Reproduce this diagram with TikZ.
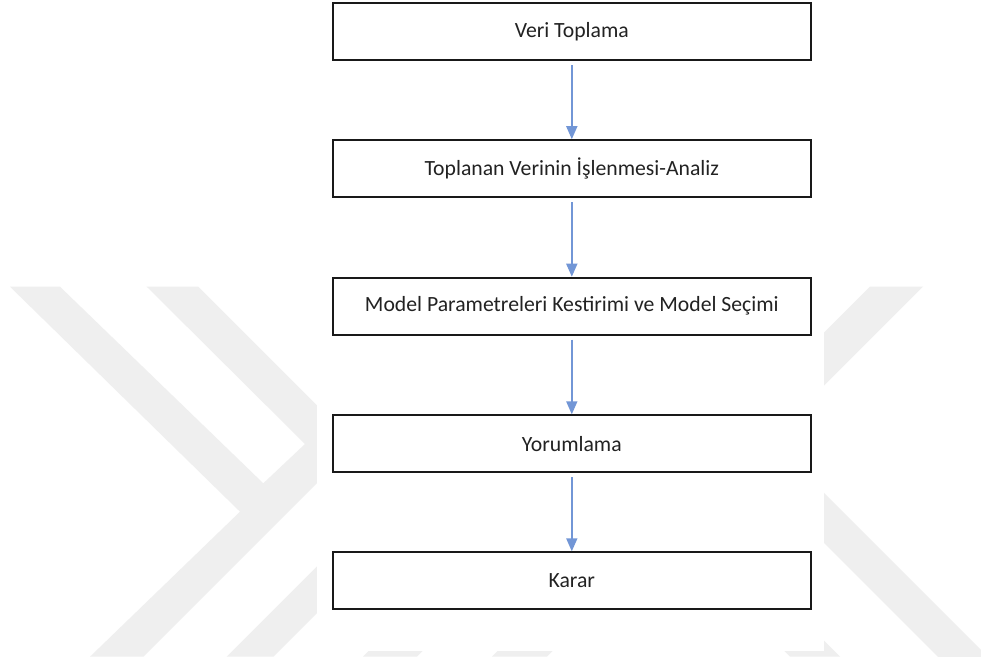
\documentclass[tikz,border=0pt]{standalone}
\usepackage{fontspec}
\setmainfont{Carlito}
\usetikzlibrary{arrows.meta}
\definecolor{wmgrey}{RGB}{239,239,239}
\definecolor{arrowblue}{RGB}{114,150,214}
\definecolor{txtgrey}{RGB}{34,34,34}
\tikzset{
  stepbox/.style={draw=black!90, line width=2pt, fill=white, minimum width=478.5pt, minimum height=57pt, inner sep=0pt, font=\fontsize{21.7}{25}\selectfont, text=txtgrey},
  flowarrow/.style={draw=arrowblue, line width=1.6pt, -{Triangle[length=13pt,width=11pt]}, shorten <=4pt},
  wmband/.style={fill=wmgrey, draw=none}
}
\begin{document}
\begin{tikzpicture}[x=1pt,y=-1pt]
\useasboundingbox (0,0) rectangle (981,662);
\fill[white] (0,0) rectangle (981,662);
% watermark
\begin{scope}
\clip (0,286.7) rectangle (981,656.7);
\fill[wmband] (10,286.7) -- (60,286.7) -- (263.3,483.3) -- (305,444) -- (146.7,286.7) -- (198.3,286.7) -- (330,418.4) -- (330,470) -- (143.3,656.7) -- (90,656.7) -- (240,511.7) -- cycle;
\fill[wmband] (226.7,656.7) -- (273.3,656.7) -- (330,600) -- (330,553.4) -- cycle;
\fill[wmband] (870,286.7) -- (923,286.7) -- (810,399.7) -- (810,346.7) -- cycle;
\fill[wmband] (810,479) -- (1000,669) -- (950,669) -- (810,529) -- cycle;
\fill[wmband] (363,656.7) -- (417,656.7) -- (467,606.7) -- (413,606.7) -- cycle;
\fill[wmband] (492,656.7) -- (547,656.7) -- (597,606.7) -- (542,606.7) -- cycle;
\fill[wmband] (790,656.7) -- (840,656.7) -- (790,606.7) -- (740,606.7) -- cycle;
\end{scope}
\fill[white] (317,0) rectangle (823.5,650.7);
% flowchart
\node[stepbox] (b1) at (571.8,31.7) {Veri Toplama};
\node[stepbox] (b2) at (571.8,168.7) {Toplanan Verinin İşlenmesi-Analiz};
\node[stepbox] (b3) at (571.8,306.2) {Model Parametreleri Kestirimi ve Model Seçimi};
\node[stepbox] (b4) at (571.8,443.8) {Yorumlama};
\node[stepbox] (b5) at (571.8,580.8) {Karar};
\draw[flowarrow] (b1) -- (b2);
\draw[flowarrow] (b2) -- (b3);
\draw[flowarrow] (b3) -- (b4);
\draw[flowarrow] (b4) -- (b5);
\end{tikzpicture}
\end{document}
